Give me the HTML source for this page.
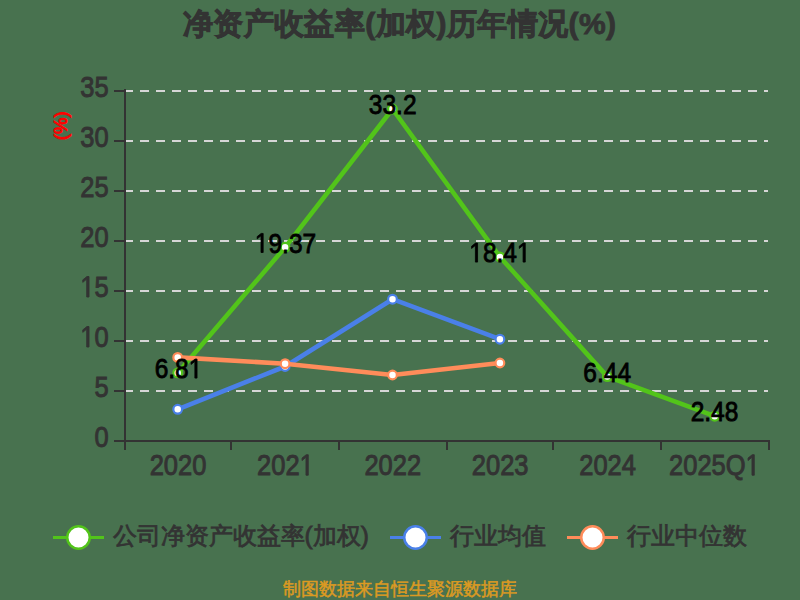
<!DOCTYPE html>
<html><head><meta charset="utf-8"><style>
html,body{margin:0;padding:0;background:#48724f;width:800px;height:600px;overflow:hidden}
svg{display:block}
text{font-family:'Liberation Sans', sans-serif}
.ax{font-size:25.5px;fill:#333333;stroke:#333333;stroke-width:0.85px}
.dl{font-size:24.5px;fill:#000;stroke:#000;stroke-width:0.75px}
.lg{font-size:24.4px;fill:#333;stroke:#333;stroke-width:0.8px}
</style></head><body>
<svg width="800" height="600" viewBox="0 0 800 600">
<rect width="800" height="600" fill="#48724f"/>
<text x="399.6" y="33.5" text-anchor="middle" font-size="30" letter-spacing="0.42" font-weight="bold" fill="#333" stroke="#333" stroke-width="0.9">净资产收益率(加权)历年情况(%)</text>
<text transform="translate(66.8,125.8) rotate(-90)" text-anchor="middle" font-size="18.5" fill="#ff0000" stroke="#ff0000" stroke-width="0.9">(%)</text>
<line x1="124" y1="391" x2="768" y2="391" stroke="#d6d6d6" stroke-width="2" stroke-dasharray="9 7"/>
<line x1="124" y1="341" x2="768" y2="341" stroke="#d6d6d6" stroke-width="2" stroke-dasharray="9 7"/>
<line x1="124" y1="291" x2="768" y2="291" stroke="#d6d6d6" stroke-width="2" stroke-dasharray="9 7"/>
<line x1="124" y1="241" x2="768" y2="241" stroke="#d6d6d6" stroke-width="2" stroke-dasharray="9 7"/>
<line x1="124" y1="191" x2="768" y2="191" stroke="#d6d6d6" stroke-width="2" stroke-dasharray="9 7"/>
<line x1="124" y1="141" x2="768" y2="141" stroke="#d6d6d6" stroke-width="2" stroke-dasharray="9 7"/>
<line x1="124" y1="91" x2="768" y2="91" stroke="#d6d6d6" stroke-width="2" stroke-dasharray="9 7"/>
<line x1="125" y1="89" x2="125" y2="442" stroke="#333333" stroke-width="2"/>
<line x1="114" y1="441" x2="125" y2="441" stroke="#333333" stroke-width="2"/>
<g transform="translate(108.70,447.00) scale(1,1.165)"><text class="ax" text-anchor="end">0</text></g>
<line x1="114" y1="391" x2="125" y2="391" stroke="#333333" stroke-width="2"/>
<g transform="translate(108.70,397.00) scale(1,1.165)"><text class="ax" text-anchor="end">5</text></g>
<line x1="114" y1="341" x2="125" y2="341" stroke="#333333" stroke-width="2"/>
<g transform="translate(108.70,347.00) scale(1,1.165)"><text class="ax" text-anchor="end"> 0</text><path class="ax" transform="translate(-28.364,0) scale(0.012451,-0.012451)" style="stroke-width:68.27px" d="M515,0L515,1237L197,1010L197,1180L530,1409L696,1409L696,0Z"/></g>
<line x1="114" y1="291" x2="125" y2="291" stroke="#333333" stroke-width="2"/>
<g transform="translate(108.70,297.00) scale(1,1.165)"><text class="ax" text-anchor="end"> 5</text><path class="ax" transform="translate(-28.364,0) scale(0.012451,-0.012451)" style="stroke-width:68.27px" d="M515,0L515,1237L197,1010L197,1180L530,1409L696,1409L696,0Z"/></g>
<line x1="114" y1="241" x2="125" y2="241" stroke="#333333" stroke-width="2"/>
<g transform="translate(108.70,247.00) scale(1,1.165)"><text class="ax" text-anchor="end">20</text></g>
<line x1="114" y1="191" x2="125" y2="191" stroke="#333333" stroke-width="2"/>
<g transform="translate(108.70,197.00) scale(1,1.165)"><text class="ax" text-anchor="end">25</text></g>
<line x1="114" y1="141" x2="125" y2="141" stroke="#333333" stroke-width="2"/>
<g transform="translate(108.70,147.00) scale(1,1.165)"><text class="ax" text-anchor="end">30</text></g>
<line x1="114" y1="91" x2="125" y2="91" stroke="#333333" stroke-width="2"/>
<g transform="translate(108.70,97.00) scale(1,1.165)"><text class="ax" text-anchor="end">35</text></g>
<line x1="124" y1="441" x2="770" y2="441" stroke="#333333" stroke-width="2"/>
<line x1="125.0" y1="441" x2="125.0" y2="450" stroke="#333333" stroke-width="2"/>
<line x1="231.0" y1="441" x2="231.0" y2="450" stroke="#333333" stroke-width="2"/>
<line x1="339.0" y1="441" x2="339.0" y2="450" stroke="#333333" stroke-width="2"/>
<line x1="447.0" y1="441" x2="447.0" y2="450" stroke="#333333" stroke-width="2"/>
<line x1="553.0" y1="441" x2="553.0" y2="450" stroke="#333333" stroke-width="2"/>
<line x1="661.0" y1="441" x2="661.0" y2="450" stroke="#333333" stroke-width="2"/>
<line x1="769.0" y1="441" x2="769.0" y2="450" stroke="#333333" stroke-width="2"/>
<g transform="translate(178.00,475.20) scale(1,1.165)"><text class="ax" text-anchor="middle">2020</text></g>
<g transform="translate(285.40,475.20) scale(1,1.165)"><text class="ax" text-anchor="middle">202 </text><path class="ax" transform="translate(14.182,0) scale(0.012451,-0.012451)" style="stroke-width:68.27px" d="M515,0L515,1237L197,1010L197,1180L530,1409L696,1409L696,0Z"/></g>
<g transform="translate(392.80,475.20) scale(1,1.165)"><text class="ax" text-anchor="middle">2022</text></g>
<g transform="translate(500.20,475.20) scale(1,1.165)"><text class="ax" text-anchor="middle">2023</text></g>
<g transform="translate(607.60,475.20) scale(1,1.165)"><text class="ax" text-anchor="middle">2024</text></g>
<g transform="translate(714.40,475.20) scale(1,1.165)"><text class="ax" text-anchor="middle">2025Q </text><path class="ax" transform="translate(31.190,0) scale(0.012451,-0.012451)" style="stroke-width:68.27px" d="M515,0L515,1237L197,1010L197,1180L530,1409L696,1409L696,0Z"/></g>
<polyline points="177.7,372.9 285.1,247.3 392.5,109.0 499.9,256.9 607.3,376.6 714.7,416.2" fill="none" stroke="#52c41a" stroke-width="4.6" stroke-linejoin="round"/>
<circle cx="177.7" cy="372.9" r="4.35" fill="#fff" stroke="#52c41a" stroke-width="2.2"/>
<circle cx="285.1" cy="247.3" r="4.35" fill="#fff" stroke="#52c41a" stroke-width="2.2"/>
<circle cx="392.5" cy="109.0" r="4.35" fill="#fff" stroke="#52c41a" stroke-width="2.2"/>
<circle cx="499.9" cy="256.9" r="4.35" fill="#fff" stroke="#52c41a" stroke-width="2.2"/>
<circle cx="607.3" cy="376.6" r="4.35" fill="#fff" stroke="#52c41a" stroke-width="2.2"/>
<circle cx="714.7" cy="416.2" r="4.35" fill="#fff" stroke="#52c41a" stroke-width="2.2"/>
<polyline points="177.7,409.3 285.1,366.5 392.5,299.2 499.9,339.2" fill="none" stroke="#4a80e8" stroke-width="4.6" stroke-linejoin="round"/>
<circle cx="177.7" cy="409.3" r="4.35" fill="#fff" stroke="#4a80e8" stroke-width="2.2"/>
<circle cx="285.1" cy="366.5" r="4.35" fill="#fff" stroke="#4a80e8" stroke-width="2.2"/>
<circle cx="392.5" cy="299.2" r="4.35" fill="#fff" stroke="#4a80e8" stroke-width="2.2"/>
<circle cx="499.9" cy="339.2" r="4.35" fill="#fff" stroke="#4a80e8" stroke-width="2.2"/>
<polyline points="177.7,357.4 285.1,363.7 392.5,375.0 499.9,363.0" fill="none" stroke="#ff8c5a" stroke-width="4.6" stroke-linejoin="round"/>
<circle cx="177.7" cy="357.4" r="4.35" fill="#fff" stroke="#ff8c5a" stroke-width="2.2"/>
<circle cx="285.1" cy="363.7" r="4.35" fill="#fff" stroke="#ff8c5a" stroke-width="2.2"/>
<circle cx="392.5" cy="375.0" r="4.35" fill="#fff" stroke="#ff8c5a" stroke-width="2.2"/>
<circle cx="499.9" cy="363.0" r="4.35" fill="#fff" stroke="#ff8c5a" stroke-width="2.2"/>
<g transform="translate(178.50,378.10) scale(1,1.13)"><text class="dl" text-anchor="middle">6.8 </text><path class="dl" transform="translate(10.216,0) scale(0.011963,-0.011963)" style="stroke-width:62.69px" d="M515,0L515,1237L197,1010L197,1180L530,1409L696,1409L696,0Z"/></g>
<g transform="translate(285.50,252.50) scale(1,1.13)"><text class="dl" text-anchor="middle"> 9.37</text><path class="dl" transform="translate(-30.655,0) scale(0.011963,-0.011963)" style="stroke-width:62.69px" d="M515,0L515,1237L197,1010L197,1180L530,1409L696,1409L696,0Z"/></g>
<g transform="translate(392.70,114.20) scale(1,1.13)"><text class="dl" text-anchor="middle">33.2</text></g>
<g transform="translate(499.90,262.10) scale(1,1.13)"><text class="dl" text-anchor="middle"> 8.4 </text><path class="dl" transform="translate(-30.655,0) scale(0.011963,-0.011963)" style="stroke-width:62.69px" d="M515,0L515,1237L197,1010L197,1180L530,1409L696,1409L696,0Z"/><path class="dl" transform="translate(17.029,0) scale(0.011963,-0.011963)" style="stroke-width:62.69px" d="M515,0L515,1237L197,1010L197,1180L530,1409L696,1409L696,0Z"/></g>
<g transform="translate(607.20,381.80) scale(1,1.13)"><text class="dl" text-anchor="middle">6.44</text></g>
<g transform="translate(714.50,421.40) scale(1,1.13)"><text class="dl" text-anchor="middle">2.48</text></g>
<line x1="53" y1="537.5" x2="104" y2="537.5" stroke="#52c41a" stroke-width="3"/>
<circle cx="78.5" cy="537.5" r="11.25" fill="#fff" stroke="#52c41a" stroke-width="2.5"/>
<text x="112.6" y="544.3" class="lg">公司净资产收益率(加权)</text>
<line x1="390" y1="537.5" x2="441" y2="537.5" stroke="#4a80e8" stroke-width="3"/>
<circle cx="415.5" cy="537.5" r="11.25" fill="#fff" stroke="#4a80e8" stroke-width="2.5"/>
<text x="449.8" y="544.3" class="lg">行业均值</text>
<line x1="567" y1="537.5" x2="618" y2="537.5" stroke="#ff8c5a" stroke-width="3"/>
<circle cx="592.5" cy="537.5" r="11.25" fill="#fff" stroke="#ff8c5a" stroke-width="2.5"/>
<text x="626.6" y="544.3" class="lg">行业中位数</text>
<text x="399.8" y="595.2" text-anchor="middle" font-size="17.8" fill="#dc9a22" stroke="#dc9a22" stroke-width="0.5">制图数据来自恒生聚源数据库</text>
</svg>
</body></html>
